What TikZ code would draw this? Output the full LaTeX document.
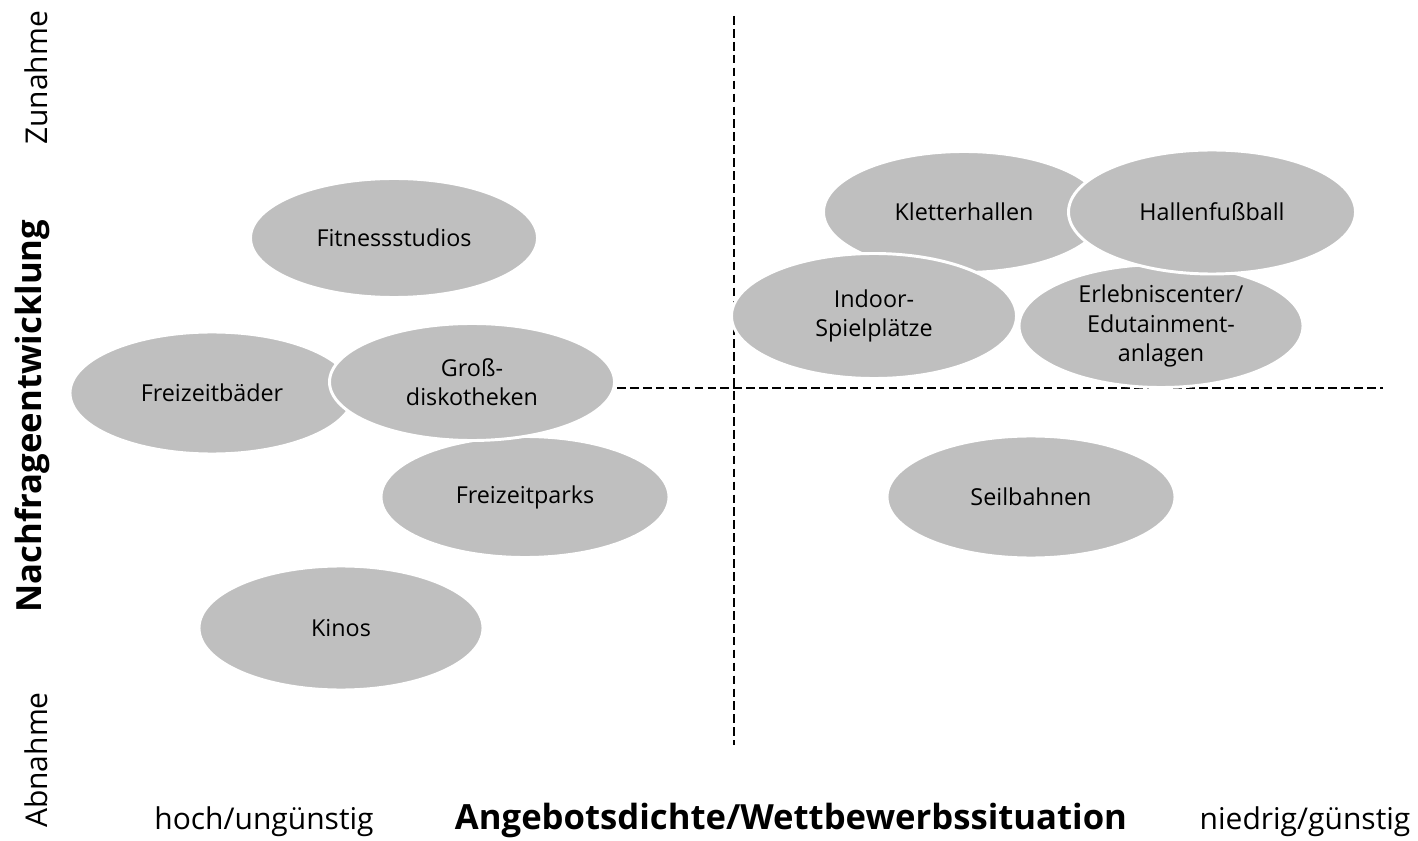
\documentclass[tikz,border=0pt]{standalone}
\usepackage{fontspec}
\setmainfont{Open Sans}
\usetikzlibrary{shapes.geometric}
\definecolor{ellgray}{RGB}{191,191,191}
\begin{document}
\begin{tikzpicture}[x=0.75pt,y=-0.75pt,
  ell/.style={ellipse,draw=white,line width=2.2pt,fill=ellgray,inner sep=0pt,align=center,font=\fontsize{17.5}{22}\selectfont},
  axisline/.style={line width=2.2pt,dash pattern=on 6.5pt off 3.2pt},
  sidelabel/.style={font=\fontsize{22.5}{26}\selectfont},
  axtitle/.style={font=\fontsize{26}{30}\selectfont\bfseries}]
\useasboundingbox (0,0) rectangle (1418,841);
% axes
\coordinate (vt) at (734,16);
\coordinate (vb) at (734,745);
\coordinate (hl) at (617,388);
\coordinate (hr) at (1383,388);
\draw[axisline] (vt) -- (vb);
\draw[axisline] (hl) -- (hr);
% left group
\node[ell,minimum width=288*0.75pt,minimum height=121*0.75pt] (fp) at (525,497) {Freizeitparks};
\node[ell,minimum width=284*0.75pt,minimum height=122*0.75pt] (fb) at (212,393) {Freizeitbäder};
\node[ell,minimum width=285*0.75pt,minimum height=117*0.75pt] (gd) at (472,382) {Groß-\\diskotheken};
\node[ell,minimum width=287*0.75pt,minimum height=119*0.75pt] (fs) at (394,238) {Fitnessstudios};
\node[ell,minimum width=284*0.75pt,minimum height=124*0.75pt] (ki) at (341,628) {Kinos};
% right group
\node[ell,minimum width=281*0.75pt,minimum height=121*0.75pt] (kh) at (964,212) {Kletterhallen};
\node[ell,minimum width=284*0.75pt,minimum height=123*0.75pt] (ec) at (1161,326) {Erlebniscenter/\\Edutainment-\\anlagen};
\node[ell,minimum width=287*0.75pt,minimum height=124*0.75pt] (hf) at (1212,212) {Hallenfußball};
\node[ell,minimum width=285*0.75pt,minimum height=125*0.75pt] (is) at (874,316) {Indoor-\\Spielplätze};
\node[ell,minimum width=288*0.75pt,minimum height=122*0.75pt] (sb) at (1031,497) {Seilbahnen};
% axis labels
\node[sidelabel,rotate=90] (zu) at (36,78) {Zunahme};
\node[sidelabel,rotate=90] (ab) at (36,760) {Abnahme};
\node[axtitle,rotate=90] (nf) at (32,416) {Nachfrageentwicklung};
\node[sidelabel] (ho) at (264,822) {hoch/ungünstig};
\node[axtitle] (an) at (791,820) {Angebotsdichte/Wettbewerbssituation};
\node[sidelabel] (ni) at (1305,822) {niedrig/günstig};
\end{tikzpicture}
\end{document}
